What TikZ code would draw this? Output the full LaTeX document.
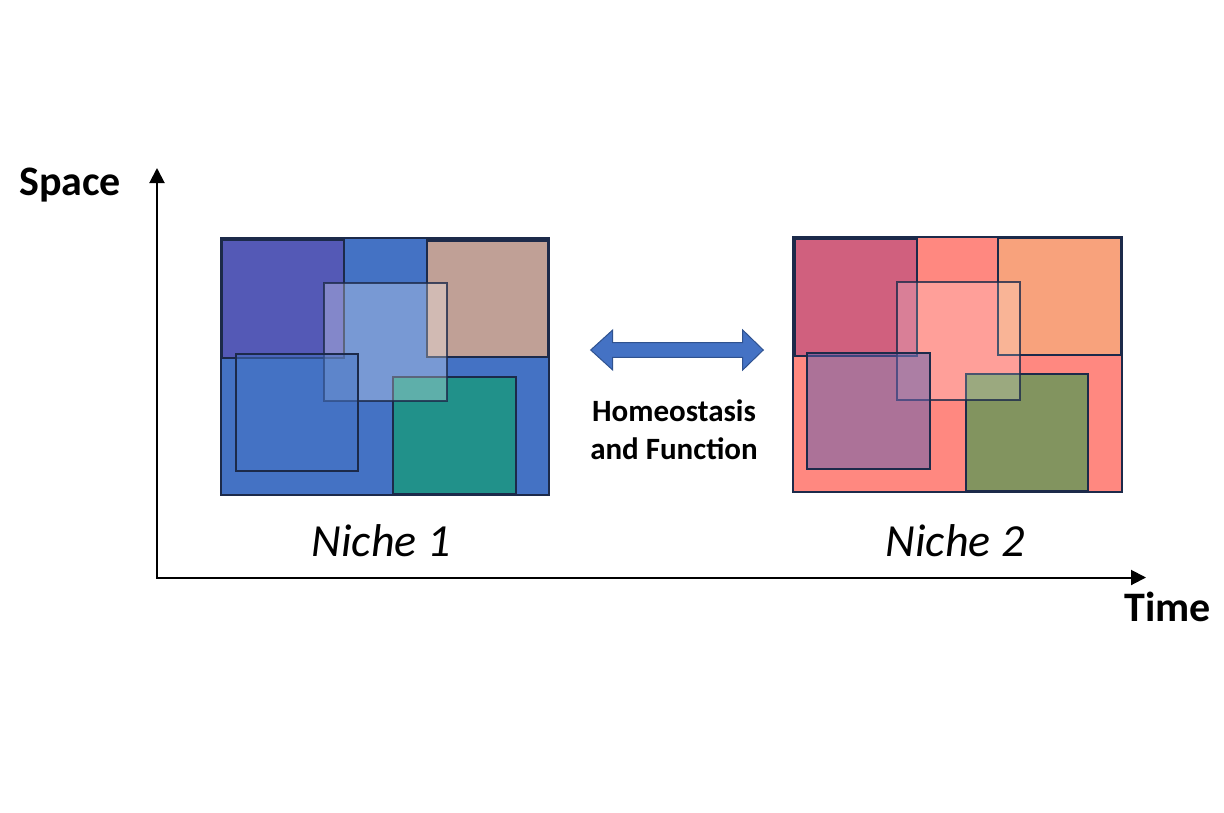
\documentclass[tikz,border=0pt]{standalone}
\usepackage{fontspec}
\setmainfont{Carlito}
\usetikzlibrary{arrows.meta}
\definecolor{edge}{HTML}{1C2A4A}
\definecolor{arrowedge}{HTML}{2F528F}
\definecolor{nablue}{HTML}{4472C4}
\definecolor{napurple}{HTML}{5459B6}
\definecolor{natan}{HTML}{C0A096}
\definecolor{nateal}{HTML}{21918A}
\definecolor{nbsalmon}{HTML}{FF8880}
\definecolor{nbrose}{HTML}{D0607E}
\definecolor{nbpeach}{HTML}{F8A27C}
\definecolor{nbolive}{HTML}{82945F}
\definecolor{nbmauve}{HTML}{5A5EB0}
\tikzset{
  box/.style={draw=edge, line width=2.3pt},
  centerbox/.style={box, fill=white, fill opacity=0.28, draw opacity=0.8},
  axis/.style={line width=2pt, black, {Triangle[length=15pt,width=15pt]}-{Triangle[length=15pt,width=15pt]}},
  axislab/.style={inner sep=0pt, font=\fontsize{42}{50}\selectfont\bfseries},
  nichelab/.style={inner sep=0pt, font=\fontsize{46}{55}\selectfont\itshape},
  hflab/.style={inner sep=0pt, align=center, font=\fontsize{31}{37.6}\selectfont\bfseries},
  blockarrow/.style={fill=nablue, draw=arrowedge, line width=1pt, line join=miter}
}
\begin{document}
\begin{tikzpicture}[x=1pt,y=-1pt]
\useasboundingbox[fill=white] (0,0) rectangle (1224,812);

% axes
\coordinate (ytip) at (157,168);
\coordinate (o) at (157,577.5);
\coordinate (xtip) at (1146,577.5);
\draw[axis] (ytip) -- (o) -- (xtip);

% Niche 1
\draw[box, fill=nablue] (220.7,238.3) rectangle (549.3,495);
\draw[box, fill=napurple] (221.5,239.5) rectangle (344.3,358.3);
\draw[box, fill=natan] (426.7,240.5) rectangle (548.3,357.3);
\draw[box, fill=nateal] (392.7,376.7) rectangle (515.7,494.3);
\draw[centerbox] (324,283.3) rectangle (446.7,401);
\draw[box, fill=nablue, fill opacity=0.5] (235.7,354) rectangle (358.3,470.7);

% Niche 2
\draw[box, fill=nbsalmon] (793.3,237.3) rectangle (1121.7,492.3);
\draw[box, fill=nbrose] (794.5,239) rectangle (917.3,356);
\draw[box, fill=nbpeach] (998.3,238) rectangle (1121,355);
\draw[box, fill=nbolive] (965.7,374.3) rectangle (1088.3,490.7);
\draw[centerbox, fill opacity=0.2] (896.7,282.3) rectangle (1020,400);
\draw[box, fill=nbmauve, fill opacity=0.5] (807.3,352.7) rectangle (930,469);

% double block arrow
\draw[blockarrow] (590.7,350) -- (612.7,330) -- (612.7,342.7) -- (742.7,342.7)
  -- (742.7,330) -- (763.3,350) -- (742.7,370) -- (742.7,357.3)
  -- (612.7,357.3) -- (612.7,370) -- cycle;

% labels
\node[axislab, anchor=base west] (space) at (19,195) {Space};
\node[axislab, anchor=base west] (time) at (1124,621.7) {Time};
\node[nichelab, anchor=base] (n1) at (381,556.7) {Niche 1};
\node[nichelab, anchor=base] (n2) at (955,556.7) {Niche 2};
\node[hflab] (hf) at (674,429.5) {Homeostasis\\and Function};
\end{tikzpicture}
\end{document}
